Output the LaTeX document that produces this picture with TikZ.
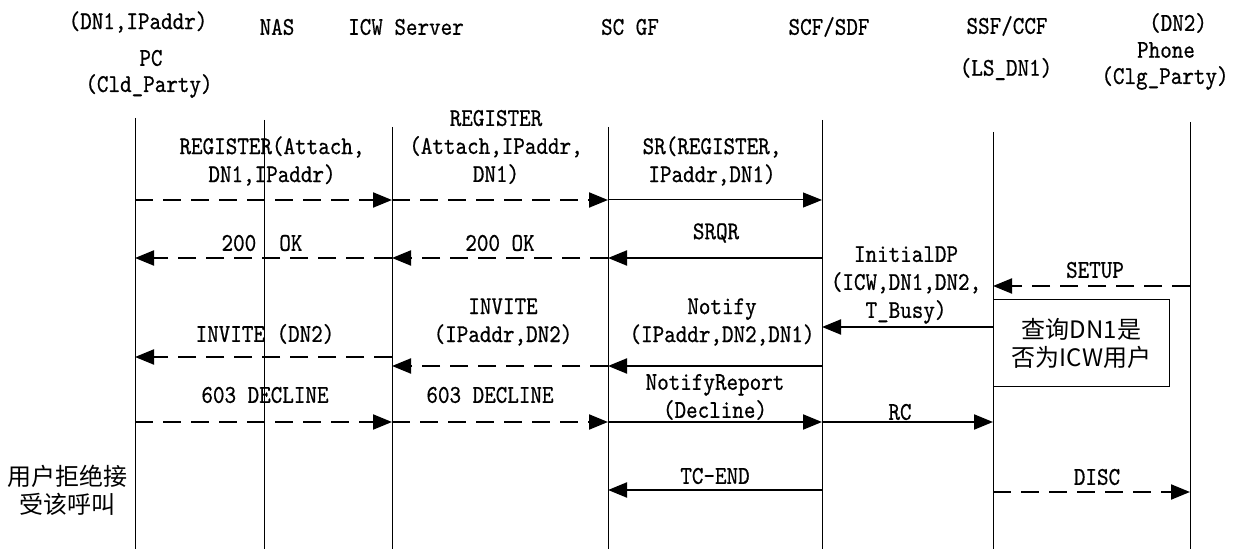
\documentclass[tikz,border=0pt]{standalone}
\usepackage{fontspec}
\setmonofont{lmmono10-regular.otf}[FakeStretch=0.86,FakeBold=0.6]
\newfontfamily\cjk{Noto Sans CJK SC}
\usetikzlibrary{arrows.meta}

\begin{document}
\begin{tikzpicture}[x=0.5pt,y=-0.5pt,
  lbl/.style={font=\ttfamily\fontsize{12.8}{14}\selectfont, inner sep=0pt, align=center},
  zh/.style={font=\cjk\fontsize{12}{13}\selectfont, inner sep=0pt, align=center},
  life/.style={line width=0.5pt},
  tip/.style={-{Triangle[length=9.5pt,width=7.5pt]}},
  dmsg/.style={tip, line width=1pt, dash pattern=on 9pt off 5pt},
  smsg/.style={tip, line width=1pt},
  thinmsg/.style={tip, line width=0.5pt},
  qbox/.style={draw, line width=0.5pt, minimum width=88pt, minimum height=43.5pt, inner sep=0pt, anchor=north west}]

\useasboundingbox (0,0) rectangle (1241,549);

% entity headers
\node[lbl] (hPCa) at (138,22) {(DN1,IPaddr)};
\node[lbl] (hPCb) at (151,58) {PC};
\node[lbl] (hPCc) at (149,86) {(Cld\_Party)};
\node[lbl] (hNAS) at (277,27) {NAS};
\node[lbl] (hICW) at (406,27) {ICW Server};
\node[lbl] (hSC) at (630,27) {SC GF};
\node[lbl] (hSCF) at (829,27) {SCF/SDF};
\node[lbl] (hSSFa) at (1007,26) {SSF/CCF};
\node[lbl] (hSSFb) at (1006,69) {(LS\_DN1)};
\node[lbl] (hPHa) at (1178,23) {(DN2)};
\node[lbl] (hPHb) at (1166,50) {Phone};
\node[lbl] (hPHc) at (1165,78) {(Clg\_Party)};

% lifelines
\coordinate (pc) at (135,118);   \coordinate (pcE) at (135,549);
\coordinate (nas) at (264,120);  \coordinate (nasE) at (264,549);
\coordinate (icw) at (392,127);  \coordinate (icwE) at (392,549);
\coordinate (sc) at (608,127);   \coordinate (scE) at (608,549);
\coordinate (scf) at (822,120);  \coordinate (scfE) at (822,549);
\coordinate (ssf) at (993,132);  \coordinate (ssfE) at (993,549);
\coordinate (ph) at (1190,122);  \coordinate (phE) at (1190,549);
\foreach \a in {pc,nas,icw,sc,scf,ssf,ph} \draw[life] (\a) -- (\a E);

% message levels
\coordinate (yReg) at (0,200);
\coordinate (yOk) at (0,258);
\coordinate (ySetup) at (0,286);
\coordinate (yIdp) at (0,327);
\coordinate (yInvA) at (0,357);
\coordinate (yInvB) at (0,366);
\coordinate (yDec) at (0,422);
\coordinate (yEnd) at (0,490);
\coordinate (yDisc) at (0,492);

% registration
\draw[dmsg] (pc|-yReg) -- (icw|-yReg);
\draw[dmsg] (icw|-yReg) -- (sc|-yReg);
\draw[thinmsg] (sc|-yReg) -- (scf|-yReg);
\node[lbl] (tReg1) at (272,161) {REGISTER(Attach,\\DN1,IPaddr)};
\node[lbl] (tReg2) at (496,147) {REGISTER\\(Attach,IPaddr,\\DN1)};
\node[lbl] (tReg3) at (712,161) {SR(REGISTER,\\IPaddr,DN1)};

% responses
\draw[dmsg] (icw|-yOk) -- (pc|-yOk);
\draw[dmsg] (sc|-yOk) -- (icw|-yOk);
\draw[smsg] (scf|-yOk) -- (sc|-yOk);
\node[lbl] (tOk1) at (262,243) {200\ \ OK};
\node[lbl] (tOk2) at (500,243) {200 OK};
\node[lbl] (tSrqr) at (716,233) {SRQR};

% incoming call
\draw[dmsg] (ph|-ySetup) -- (ssf|-ySetup);
\node[lbl] (tSetup) at (1095,270) {SETUP};
\draw[smsg] (ssf|-yIdp) -- (scf|-yIdp);
\node[lbl] (tIdp) at (906,285) {InitialDP\\(ICW,DN1,DN2,\\T\_Busy)};
\node[qbox] (query) at (993,299) {};
\node[zh] (tQuery) at (query.center) {查询DN1是\\[1pt]否为ICW用户};

% notification and invite
\draw[smsg] (scf|-yInvB) -- (sc|-yInvB);
\draw[dmsg] (sc|-yInvB) -- (icw|-yInvB);
\draw[dmsg] (icw|-yInvA) -- (pc|-yInvA);
\node[lbl] (tNotify) at (722,322) {Notify\\(IPaddr,DN2,DN1)};
\node[lbl] (tInv2) at (503,322) {INVITE\\(IPaddr,DN2)};
\node[lbl] (tInv1) at (265,334) {INVITE (DN2)};

% decline
\draw[dmsg] (pc|-yDec) -- (icw|-yDec);
\draw[dmsg] (icw|-yDec) -- (sc|-yDec);
\draw[smsg] (sc|-yDec) -- (scf|-yDec);
\draw[smsg] (scf|-yDec) -- (ssf|-yDec);
\node[lbl] (tDec1) at (265,395) {603 DECLINE};
\node[lbl] (tDec2) at (490,395) {603 DECLINE};
\node[lbl] (tNr) at (715,397) {NotifyReport\\(Decline)};
\node[lbl] (tRc) at (900,412) {RC};

% release
\draw[smsg] (scf|-yEnd) -- (sc|-yEnd);
\node[lbl] (tEnd) at (715,476) {TC-END};
\draw[dmsg] (ssf|-yDisc) -- (ph|-yDisc);
\node[lbl] (tDisc) at (1097,477) {DISC};

\node[zh] (tUser) at (67,490) {用户拒绝接\\[1pt]受该呼叫};
\end{tikzpicture}
\end{document}
